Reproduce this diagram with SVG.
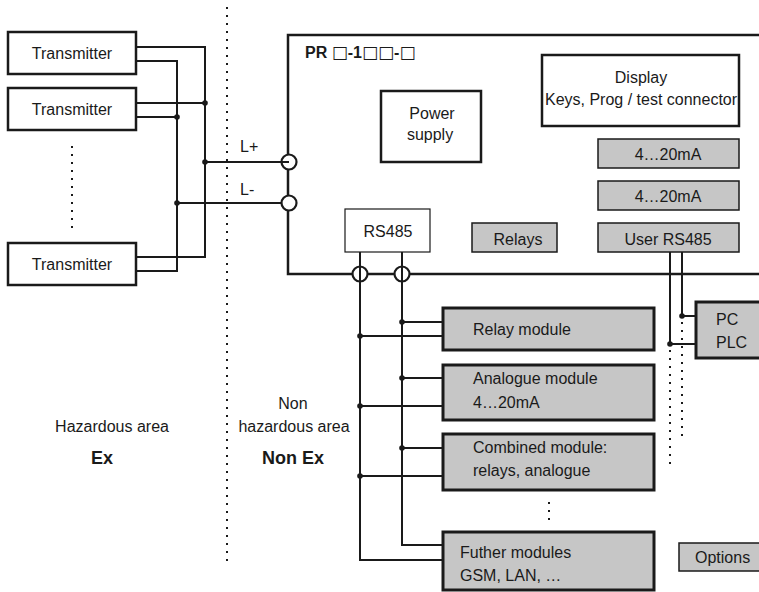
<svg xmlns="http://www.w3.org/2000/svg" width="759" height="592" viewBox="0 0 759 592">
<style>
text{font-family:"Liberation Sans",Arial,sans-serif;font-size:16px;fill:#1a1a1a}
.c{text-anchor:middle}
.b{font-weight:bold}
.sq{font-family:"DejaVu Sans",sans-serif;font-weight:normal;font-size:17px}
.box{fill:#fff;stroke:#1a1a1a;stroke-width:2.5}
.thin{fill:#fff;stroke:#1a1a1a;stroke-width:1.2}
.gray{fill:#c6c6c6;stroke:#1a1a1a;stroke-width:1.5}
.mod{fill:#c6c6c6;stroke:#1a1a1a;stroke-width:3}
.w{fill:none;stroke:#1a1a1a;stroke-width:2}
.dot{fill:#1a1a1a}
.dots{fill:none;stroke:#1a1a1a;stroke-width:2;stroke-dasharray:2 6}
.term{fill:#fff;stroke:#1a1a1a;stroke-width:2.2}
</style>

<g id="areas">
<line class="dots" x1="227" y1="7" x2="227" y2="565"/>
<text class="c" x="112" y="432">Hazardous area</text>
<text class="c b" x="102" y="464" style="font-size:18px">Ex</text>
<text class="c" x="293" y="409">Non</text>
<text class="c" x="294" y="432">hazardous area</text>
<text class="c b" x="293" y="464" style="font-size:18px">Non Ex</text>
</g>

<g id="tx1"><rect class="box" x="8" y="32" width="128" height="42"/><text class="c" x="72" y="59">Transmitter</text></g>
<g id="tx2"><rect class="box" x="8" y="88" width="128" height="42"/><text class="c" x="72" y="115">Transmitter</text></g>
<g id="tx3"><rect class="box" x="8" y="243" width="128" height="42"/><text class="c" x="72" y="270">Transmitter</text></g>
<line class="dots" x1="72" y1="146" x2="72" y2="230"/>

<g id="pr">
<rect x="288" y="35" width="520" height="239" fill="none" stroke="#1a1a1a" stroke-width="2.5"/>
<text class="b" x="305" y="58">PR <tspan class="sq">□</tspan>-1<tspan class="sq">□□</tspan>-<tspan class="sq">□</tspan></text>
</g>

<g id="power"><rect class="box" x="381" y="91" width="100" height="71"/><text class="c" x="432" y="119">Power</text><text class="c" x="430" y="140">supply</text></g>
<g id="display"><rect class="box" x="542" y="55" width="197" height="71"/><text class="c" x="641" y="83">Display</text><text class="c" x="641" y="105">Keys, Prog / test connector</text></g>
<g id="ma1"><rect class="gray" x="598" y="139" width="141" height="29"/><text class="c" x="668" y="160">4…20mA</text></g>
<g id="ma2"><rect class="gray" x="598" y="181" width="141" height="29"/><text class="c" x="668" y="202">4…20mA</text></g>
<g id="userrs"><rect class="gray" x="598" y="223" width="141" height="29"/><text class="c" x="668" y="245">User RS485</text></g>
<g id="relays"><rect class="gray" x="472" y="223" width="85" height="29"/><text class="c" x="518" y="245">Relays</text></g>
<g id="rs485"><rect class="thin" x="345" y="209" width="85" height="43"/><text class="c" x="388" y="237">RS485</text></g>

<g id="connectors">
<polyline class="w" points="136,47 205,47 205,257 136,257"/>
<polyline class="w" points="136,61 177,61 177,271 136,271"/>
<line class="w" x1="136" y1="103" x2="205" y2="103"/>
<line class="w" x1="136" y1="117" x2="177" y2="117"/>
<circle class="dot" cx="205" cy="103" r="2.8"/>
<circle class="dot" cx="177" cy="117" r="2.8"/>
<circle class="term" cx="289" cy="162" r="7.5"/>
<circle class="term" cx="289" cy="203" r="7.5"/>
<line class="w" x1="205" y1="162" x2="289" y2="162"/>
<line class="w" x1="177" y1="203" x2="281" y2="203"/>
<circle class="dot" cx="205" cy="162" r="2.8"/>
<circle class="dot" cx="177" cy="203" r="2.8"/>
<circle class="term" cx="360" cy="274" r="7.5"/>
<circle class="term" cx="402" cy="274" r="7.5"/>
<polyline class="w" points="360,252 360,560 443,560"/>
<polyline class="w" points="402,252 402,545 443,545"/>
<line class="w" x1="402" y1="322" x2="443" y2="322"/>
<line class="w" x1="360" y1="336" x2="443" y2="336"/>
<line class="w" x1="402" y1="378" x2="443" y2="378"/>
<line class="w" x1="360" y1="406" x2="443" y2="406"/>
<line class="w" x1="402" y1="448" x2="443" y2="448"/>
<line class="w" x1="360" y1="476" x2="443" y2="476"/>
<circle class="dot" cx="402" cy="322" r="2.8"/>
<circle class="dot" cx="360" cy="336" r="2.8"/>
<circle class="dot" cx="402" cy="378" r="2.8"/>
<circle class="dot" cx="360" cy="406" r="2.8"/>
<circle class="dot" cx="402" cy="448" r="2.8"/>
<circle class="dot" cx="360" cy="476" r="2.8"/>
<polyline class="w" points="682,252 682,316 696,316"/>
<polyline class="w" points="670,252 670,344 696,344"/>
<circle class="dot" cx="682" cy="316" r="2.8"/>
<circle class="dot" cx="670" cy="344" r="2.8"/>
<line class="dots" x1="682" y1="322" x2="682" y2="442"/>
<line class="dots" x1="670" y1="350" x2="670" y2="465"/>
<line class="dots" x1="549" y1="502" x2="549" y2="522"/>
</g>

<g id="pc"><rect class="mod" x="696" y="302" width="80" height="56"/><text x="716" y="325">PC</text><text x="716" y="348">PLC</text></g>
<g id="relaymod"><rect class="mod" x="443" y="308" width="211" height="42"/><text x="473" y="335">Relay module</text></g>
<g id="analogmod"><rect class="mod" x="443" y="365" width="211" height="55"/><text x="473" y="384">Analogue module</text><text x="473" y="408">4…20mA</text></g>
<g id="combmod"><rect class="mod" x="443" y="434" width="211" height="56"/><text x="473" y="453">Combined module:</text><text x="473" y="476">relays, analogue</text></g>
<g id="furthermod"><rect class="mod" x="443" y="532" width="211" height="58"/><text x="460" y="558">Futher modules</text><text x="460" y="581">GSM, LAN, …</text></g>
<g id="options"><rect class="gray" x="679" y="543" width="90" height="28"/><text x="695" y="563">Options</text></g>
<text x="240" y="152">L+</text>
<text x="240" y="195">L-</text>
</svg>
